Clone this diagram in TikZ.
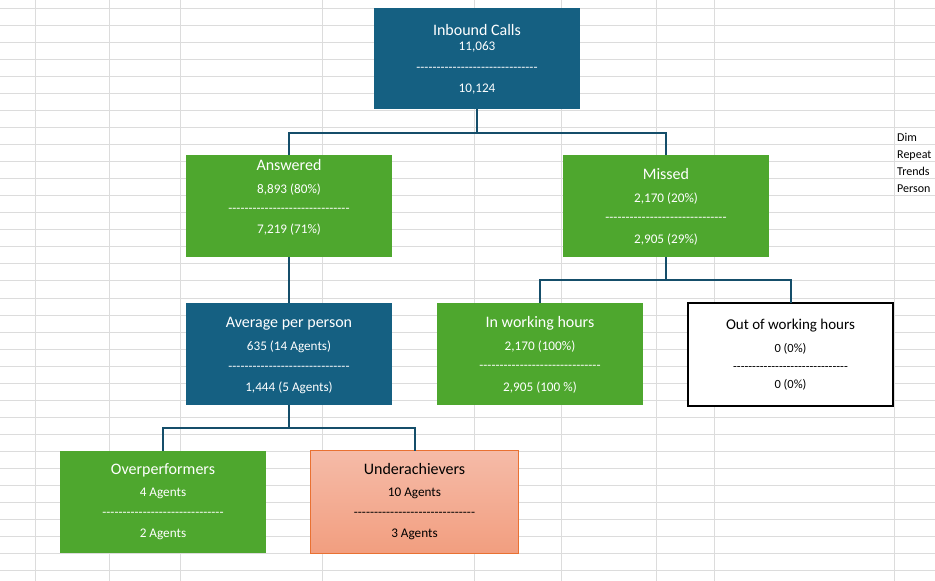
\documentclass[tikz,border=0pt]{standalone}
\usepackage{fontspec}
\setmainfont{Carlito}
\usetikzlibrary{calc}
\definecolor{xlblue}{HTML}{156082}
\definecolor{xlgreen}{HTML}{4EA72E}
\definecolor{xlconn}{HTML}{154E6A}
\definecolor{xlgrid}{HTML}{DCDCDC}
\definecolor{orTop}{HTML}{F5BBA8}
\definecolor{orBot}{HTML}{F29E7F}
\definecolor{orLine}{HTML}{E97132}
\newcommand\hy{\hbox{-}}
\newcommand\hyten{\hy\hy\hy\hy\hy\hy\hy\hy\hy\hy}
\newcommand\dashrow{\hyten\hyten\hyten}
\newcommand\TitleF{\fontsize{16}{18}\selectfont}
\newcommand\ValF{\fontsize{13.2}{15}\selectfont}
\newcommand\CTitleF{\fontsize{15}{18}\selectfont}
\newcommand\CValF{\fontsize{12.5}{15}\selectfont}
\tikzset{
  orgbox/.style={anchor=north west, inner sep=0pt, outer sep=0pt},
  bluebox/.style={orgbox, fill=xlblue},
  greenbox/.style={orgbox, fill=xlgreen},
  whitebox/.style={orgbox, fill=white, draw=black, line width=2pt},
  orangebox/.style={orgbox, top color=orTop, bottom color=orBot, draw=orLine, line width=1pt},
  ttl/.style={anchor=base, inner sep=0pt, font=\TitleF, text=white},
  val/.style={anchor=base, inner sep=0pt, font=\ValF, text=white},
  ctl/.style={anchor=base, inner sep=0pt, font=\CTitleF, text=black},
  cvl/.style={anchor=base, inner sep=0pt, font=\CValF, text=black},
  conn/.style={draw=xlconn, line width=2pt},
  gridline/.style={draw=xlgrid, line width=1pt},
  side/.style={anchor=base west, inner sep=0pt, font=\fontsize{12}{14}\selectfont, text=black}
}
\begin{document}
\begin{tikzpicture}[x=1pt,y=-1pt]
\useasboundingbox (0,0) rectangle (935,581);
\fill[white] (0,0) rectangle (935,581);
% spreadsheet grid
\foreach \gx in {35,109,180,322,474,561,656,714,894}
  \draw[gridline] (\gx,0) -- (\gx,581);
\foreach \gi in {0,...,33}
  \draw[gridline] (0,8+17.06*\gi) -- (935,8+17.06*\gi);
% side texts
\node[side] (sDim) at (897,141) {Dim};
\node[side] (sRep) at (897,158) {Repeat};
\node[side] (sTre) at (897,175) {Trends};
\node[side] (sPer) at (897,192) {Person};
% boxes
\node[bluebox, minimum width=206pt, minimum height=101pt] (inb) at (374,8) {};
\node[greenbox, minimum width=206pt, minimum height=102pt] (ans) at (186,155) {};
\node[greenbox, minimum width=206pt, minimum height=102pt] (mis) at (563,155) {};
\node[bluebox, minimum width=206pt, minimum height=102pt] (avg) at (186,303) {};
\node[greenbox, minimum width=206pt, minimum height=102pt] (inw) at (437,303) {};
\node[whitebox, minimum width=205pt, minimum height=103pt] (outw) at (688,303) {};
\node[greenbox, minimum width=206pt, minimum height=102pt] (ovr) at (60,451) {};
\node[orangebox, minimum width=208pt, minimum height=103pt] (und) at (310.5,450.5) {};
% connectors
\draw[conn] (inb.south) -- ++(0,23.5) -| (ans.north);
\draw[conn] (inb.south) -- ++(0,23.5) -| (mis.north);
\draw[conn] (ans.south) -- (avg.north);
\draw[conn] (mis.south) -- ++(0,22.5) -| (inw.north);
\draw[conn] (mis.south) -- ++(0,22.5) -| (outw.north);
\draw[conn] (avg.south) -- ++(0,23) -| (ovr.north);
\draw[conn] (avg.south) -- ++(0,23) -| (und.north);
% texts: Inbound Calls
\node[ttl] (inbT) at (477,35.3) {Inbound Calls};
\node[val] (inb1) at (477,50.7) {11,063};
\node[val] (inbD) at (477,71.5) {\dashrow};
\node[val] (inb2) at (477,92.3) {10,124};
% Answered
\node[ttl] (ansT) at (289,170) {Answered};
\node[val] (ans1) at (289,193.3) {8,893 (80\%)};
\node[val] (ansD) at (289,212.8) {\dashrow};
\node[val] (ans2) at (289,233.3) {7,219 (71\%)};
% Missed
\node[ttl] (misT) at (666,179.3) {Missed};
\node[val] (mis1) at (666,202.7) {2,170 (20\%)};
\node[val] (misD) at (666,221.8) {\dashrow};
\node[val] (mis2) at (666,243.3) {2,905 (29\%)};
% Average per person
\node[ttl] (avgT) at (289,327) {Average per person};
\node[val] (avg1) at (289,350) {635 (14 Agents)};
\node[val] (avgD) at (289,370.2) {\dashrow};
\node[val] (avg2) at (289,391) {1,444 (5 Agents)};
% In working hours
\node[ttl] (inwT) at (540,327.3) {In working hours};
\node[val] (inw1) at (540,350.3) {2,170 (100\%)};
\node[val] (inwD) at (540,369.5) {\dashrow};
\node[val] (inw2) at (540,391) {2,905 (100 \%)};
% Out of working hours
\node[ctl] (outT) at (790.5,329.3) {Out of working hours};
\node[cvl] (out1) at (790.5,352.7) {0 (0\%)};
\node[cvl] (outD) at (790.5,370.2) {\dashrow};
\node[cvl] (out2) at (790.5,388.3) {0 (0\%)};
% Overperformers
\node[ttl] (ovrT) at (163,474) {Overperformers};
\node[val] (ovr1) at (163,496.7) {4 Agents};
\node[val] (ovrD) at (163,516.2) {\dashrow};
\node[val] (ovr2) at (163,537.5) {2 Agents};
% Underachievers
\node[ttl, text=black] (undT) at (414.5,474) {Underachievers};
\node[val, text=black] (und1) at (414.5,496.7) {10 Agents};
\node[val, text=black] (undD) at (414.5,516.8) {\dashrow};
\node[val, text=black] (und2) at (414.5,537.7) {3 Agents};
\end{tikzpicture}
\end{document}
